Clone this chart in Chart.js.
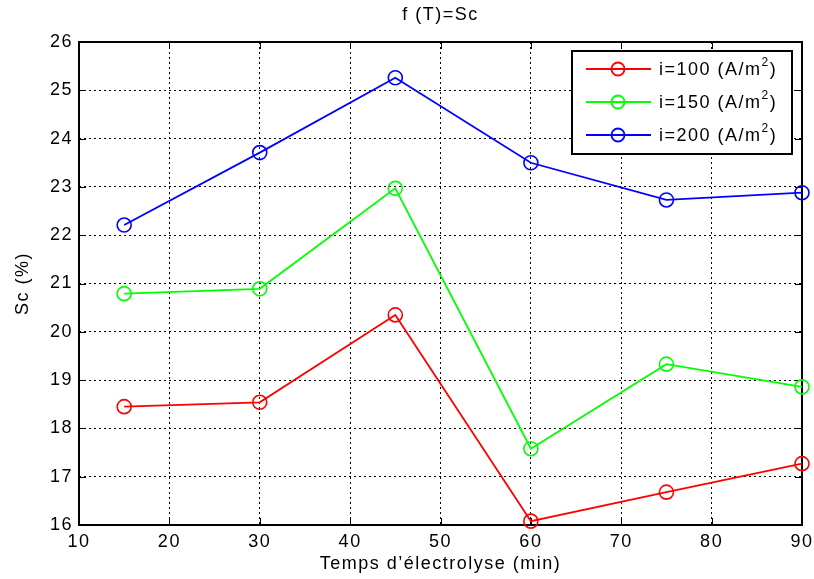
<!DOCTYPE html>
<html>
<head>
<meta charset="utf-8">
<script src="https://cdn.jsdelivr.net/npm/chart.js@4.4.0/dist/chart.umd.min.js"></script>
<style>
html,body{margin:0;padding:0;background:#fff;}
#wrap{width:814px;height:579px;}
</style>
</head>
<body>
<div id="wrap"><canvas id="c" width="814" height="579"></canvas></div>
<script>
// ---- data ----
const times  = [15, 30, 45, 60, 75, 90];
const sc100  = [18.45, 18.54, 20.35, 16.08, 16.68, 17.27];
const sc150  = [20.79, 20.89, 22.97, 17.58, 19.33, 18.86];
const sc200  = [22.21, 23.71, 25.26, 23.50, 22.73, 22.88];
const seriesNames  = ['i=100', 'i=150', 'i=200'];
const seriesColors = ['#ff0000', '#00ff00', '#0000ff'];
const unitMain = '(A/m';
const unitSup  = '2';
const unitEnd  = ')';
const xTickValues = [10, 20, 30, 40, 50, 60, 70, 80, 90];
const yTickValues = [16, 17, 18, 19, 20, 21, 22, 23, 24, 25, 26];
const chartTitle = 'f (T)=Sc';
const xTitle = 'Temps d’électrolyse (min)';
const yTitle = 'Sc (%)';

const FAMILY = '"Liberation Sans", Arial, Helvetica, sans-serif';
const SPACING = '1.5px';

const spacingPlugin = {
  id: 'spacing',
  beforeUpdate(chart) { chart.ctx.letterSpacing = SPACING; },
  beforeLayout(chart) { chart.ctx.letterSpacing = SPACING; },
  beforeDraw(chart) { chart.ctx.letterSpacing = SPACING; }
};

const framePlugin = {
  id: 'frame',
  beforeDatasetsDraw(chart) {
    const {ctx, chartArea: a, scales: {x, y}} = chart;
    ctx.save();
    ctx.setLineDash([]);
    ctx.strokeStyle = '#000';
    ctx.lineWidth = 1;
    ctx.beginPath();
    x.ticks.forEach(t => {
      const px = Math.round(x.getPixelForValue(t.value)) + 0.5;
      ctx.moveTo(px, a.bottom); ctx.lineTo(px, a.bottom - 7);
      ctx.moveTo(px, a.top); ctx.lineTo(px, a.top + 7);
    });
    y.ticks.forEach(t => {
      const py = Math.round(y.getPixelForValue(t.value)) + 0.5;
      ctx.moveTo(a.left, py); ctx.lineTo(a.left + 7, py);
      ctx.moveTo(a.right, py); ctx.lineTo(a.right - 7, py);
    });
    ctx.stroke();
    ctx.lineWidth = 2;
    ctx.strokeRect(a.left, a.top, a.right - a.left, a.bottom - a.top);
    ctx.restore();
  }
};

const legendPlugin = {
  id: 'matlabLegend',
  afterDraw(chart) {
    const {ctx, chartArea: a} = chart;
    const w = 220, h = 103;
    const L = a.right - 10 - w, T = a.top + 9;
    ctx.save();
    ctx.letterSpacing = SPACING;
    ctx.setLineDash([]);
    ctx.fillStyle = '#fff';
    ctx.fillRect(L, T, w, h);
    ctx.strokeStyle = '#000';
    ctx.lineWidth = 2;
    ctx.strokeRect(L, T, w, h);
    chart.data.datasets.forEach((ds, i) => {
      const ry = T + 18 + i * 33;
      ctx.strokeStyle = ds.borderColor;
      ctx.lineWidth = 1.8;
      ctx.beginPath();
      ctx.moveTo(L + 14, ry); ctx.lineTo(L + 79, ry);
      ctx.stroke();
      ctx.beginPath();
      ctx.arc(L + 46, ry, 6.5, 0, Math.PI * 2);
      ctx.stroke();
      ctx.fillStyle = '#000';
      ctx.textBaseline = 'middle';
      ctx.textAlign = 'left';
      let tx = L + 87;
      ctx.font = '18px ' + FAMILY;
      const main = seriesNames[i] + ' ' + unitMain;
      ctx.fillText(main, tx, ry + 1);
      tx += ctx.measureText(main).width;
      ctx.font = '12px ' + FAMILY;
      ctx.fillText(unitSup, tx, ry - 6);
      tx += ctx.measureText(unitSup).width;
      ctx.font = '18px ' + FAMILY;
      ctx.fillText(unitEnd, tx, ry + 1);
    });
    ctx.restore();
  }
};

const mk = (i, vals) => ({
  label: seriesNames[i],
  data: times.map((t, k) => ({x: t, y: vals[k]})),
  borderColor: seriesColors[i],
  backgroundColor: 'rgba(0,0,0,0)',
  borderWidth: 1.8,
  pointRadius: 7,
  pointBorderWidth: 1.6,
  pointBorderColor: seriesColors[i],
  pointBackgroundColor: 'rgba(0,0,0,0)',
  pointStyle: 'circle',
  tension: 0,
  fill: false,
  clip: false
});

new Chart(document.getElementById('c'), {
  type: 'line',
  data: { datasets: [mk(0, sc100), mk(1, sc150), mk(2, sc200)] },
  options: {
    responsive: false,
    devicePixelRatio: 1,
    animation: false,
    events: [],
    layout: { padding: { left: 0, right: 12, top: 0, bottom: 0 } },
    plugins: {
      legend: { display: false },
      tooltip: { enabled: false },
      title: {
        display: true,
        text: chartTitle,
        fullSize: false,
        color: '#000',
        font: { family: FAMILY, size: 18, weight: 'normal', lineHeight: 1.2 },
        padding: { top: 4, bottom: 16.4 }
      }
    },
    scales: {
      x: {
        type: 'linear',
        min: 10, max: 90,
        afterBuildTicks: s => { s.ticks = xTickValues.map(v => ({value: v})); },
        afterFit: s => { s.height = 54; s.paddingLeft = 0; s.paddingRight = 0; },
        ticks: { color: '#000', padding: 6, font: { family: FAMILY, size: 18 }, maxRotation: 0 },
        grid: { color: '#000', lineWidth: 1, drawTicks: false },
        border: { display: false, dash: [2, 3] },
        title: { display: true, text: xTitle, color: '#000', font: { family: FAMILY, size: 18, lineHeight: 1.2 }, padding: { top: 0, bottom: 4 } }
      },
      y: {
        type: 'linear',
        min: 16, max: 26,
        afterBuildTicks: s => { s.ticks = yTickValues.map(v => ({value: v})); },
        afterFit: s => { s.width = 79; s.paddingTop = 0; s.paddingBottom = 0; },
        ticks: { color: '#000', padding: 6, font: { family: FAMILY, size: 18 } },
        grid: { color: '#000', lineWidth: 1, drawTicks: false },
        border: { display: false, dash: [2, 3] },
        title: { display: true, text: yTitle, color: '#000', font: { family: FAMILY, size: 18, lineHeight: 1.2 }, padding: { top: 12, bottom: 0 } }
      }
    }
  },
  plugins: [spacingPlugin, framePlugin, legendPlugin]
});
</script>
</body>
</html>
